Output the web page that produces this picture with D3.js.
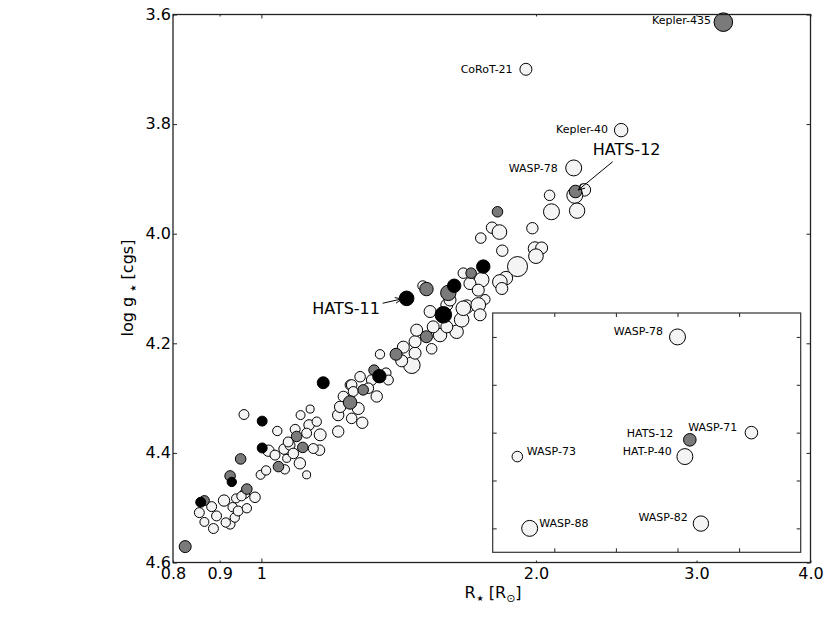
<!DOCTYPE html>
<html><head><meta charset="utf-8">
<script src="https://cdn.jsdelivr.net/npm/d3@7"></script>
<style>
body{margin:0;background:#fff}
svg{display:block}
text{font-family:"DejaVu Sans","Liberation Sans",sans-serif;fill:#000}
</style>
</head><body>
<svg id="c" width="830" height="639"></svg>
<script>
// ---- data (stellar radius [Rsun], log g [cgs], planet radius [RJ], group) ----
// group: 0 = other known planets (light), 1 = grey sample, 2 = black sample
const starR = [0.825,0.858,0.866,0.855,0.866,0.882,0.893,0.886,0.910,0.924,0.935,0.930,0.943,0.938,0.959,0.964,0.964,0.984,0.924,0.928,
0.949,0.957,1.002,1.002,1.041,0.998,1.012,1.018,1.059,1.044,1.061,1.093,1.110,1.102,1.121,1.104,1.131,1.128,1.089,1.160,
1.150,1.158,1.214,1.251,1.290,1.293,1.338,1.169,1.214,1.277,1.251,1.075,1.066,0.914,0.951,1.140,1.070,1.121,1.084,1.035,
1.583,1.347,1.329,1.370,1.405,1.517,1.349,1.462,1.474,1.425,1.431,1.474,1.537,1.570,1.637,1.658,1.531,1.597,1.680,1.480,
1.543,1.256,1.283,1.321,1.310,1.220,1.256,1.230,1.378,1.261,1.597,1.610,
1.815,1.790,1.824,1.740,1.982,1.837,1.995,2.029,2.000,1.909,1.854,1.826,1.835,1.751,1.698,1.665,1.744,1.693,1.729,1.627,
1.603,1.517,1.503,1.759,1.729,1.737,1.665];
const starLogg = [4.571,4.490,4.487,4.509,4.526,4.498,4.515,4.538,4.487,4.530,4.518,4.499,4.506,4.483,4.474,4.466,4.501,4.481,4.442,4.453,
4.411,4.330,4.342,4.391,4.360,4.440,4.432,4.396,4.393,4.425,4.430,4.370,4.390,4.419,4.440,4.331,4.320,4.349,4.357,4.367,
4.343,4.395,4.361,4.308,4.345,4.285,4.297,4.272,4.331,4.319,4.276,4.386,4.410,4.527,4.479,4.392,4.380,4.364,4.401,4.404,
4.148,4.260,4.249,4.254,4.220,4.188,4.220,4.240,4.218,4.232,4.207,4.197,4.210,4.185,4.179,4.157,4.142,4.130,4.133,4.176,
4.170,4.276,4.261,4.267,4.282,4.316,4.337,4.297,4.267,4.288,4.170,4.121,
3.960,3.989,3.997,4.008,3.990,4.031,4.027,4.026,4.041,4.060,4.081,4.088,4.100,4.060,4.072,4.072,4.084,4.091,4.103,4.095,
4.108,4.101,4.095,4.120,4.130,4.148,4.136];
const planetR = [1.00,0.83,0.83,0.83,0.75,0.83,0.83,0.83,0.95,0.83,0.78,0.78,0.83,0.75,0.83,0.88,0.78,0.88,0.88,0.78,
0.88,0.83,0.83,0.83,0.78,0.75,0.78,0.95,0.88,0.88,0.78,0.88,0.88,0.95,0.67,0.75,0.67,0.88,0.83,1.00,
0.78,0.88,0.95,1.12,0.95,0.88,0.95,1.00,0.95,1.00,0.83,0.83,0.67,0.78,0.78,0.83,0.83,0.83,0.88,0.83,
1.38,1.12,0.88,0.83,1.00,1.00,0.78,1.38,1.00,1.00,1.00,1.00,0.88,1.12,1.12,1.22,1.00,1.00,1.12,1.00,
1.00,0.88,0.88,0.88,0.88,0.95,0.88,0.88,0.83,0.83,1.00,1.00,
0.88,0.95,1.22,0.88,0.95,0.95,1.12,1.00,1.22,1.67,1.12,1.22,1.00,1.12,0.88,0.88,1.22,1.00,1.00,1.12,
1.28,1.12,0.83,0.83,1.22,1.00,1.22];
const group = [1,2,1,0,0,0,0,0,0,0,0,0,0,0,0,1,0,0,1,2,
1,0,2,2,0,0,0,0,0,1,0,1,1,0,0,0,0,0,0,0,
0,0,0,1,0,1,0,2,0,0,0,0,0,0,0,0,0,0,0,0,
2,2,1,0,1,1,0,0,0,0,0,0,0,0,0,0,0,0,0,0,
0,0,0,0,0,0,0,0,0,0,0,0,
1,0,0,0,0,0,0,0,0,0,0,0,0,2,1,0,0,0,0,2,
1,1,0,0,0,0,0];

// named systems
const namedStar  = ["Kepler-435","CoRoT-21","Kepler-40","WASP-78","HATS-12","WASP-71","HAT-P-40","WASP-73","WASP-88","WASP-82","HATS-11"];
const namedR     = [3.21, 1.95, 2.48, 2.20, 2.21, 2.26, 2.206, 2.07, 2.08, 2.219, 1.443];
const namedLogg  = [3.614,3.700,3.811,3.880,3.923,3.920,3.930,3.930,3.960,3.958,4.118];
const namedRp    = [1.55, 1.00, 1.12, 1.33, 1.05, 1.05, 1.33, 0.88, 1.33, 1.28, 1.22];
const namedGroup = [1, 0, 0, 0, 1, 0, 0, 0, 0, 0, 2];

// axes
const xTickVals   = [0.8, 0.9, 1, 2, 3, 4];
const xTickLabels = ["0.8","0.9","1","2.0","3.0","4.0"];
const yTickVals   = [3.6, 3.8, 4.0, 4.2, 4.4, 4.6];
const yTickLabels = ["3.6","3.8","4.0","4.2","4.4","4.6"];
const insetXTicks = [2.10, 2.15, 2.20, 2.25];
const insetYTicks = [3.88, 3.90, 3.92, 3.94, 3.96];

// which names appear where
const mainLabels  = ["Kepler-435","CoRoT-21","Kepler-40","WASP-78"];
const insetLabels = ["WASP-78","HATS-12","WASP-71","HAT-P-40","WASP-73","WASP-88","WASP-82"];
const bigNotes    = ["HATS-12","HATS-11"];

// ---- layout (label offsets in pixels) ----
const mainLabelPos = {"Kepler-435":[-12.3,2,"end"],"CoRoT-21":[-13.3,3.2,"end"],"Kepler-40":[-13.1,3,"end"],"WASP-78":[-15.9,4.3,"end"]};
const insetLabelPos = {"WASP-78":[-14.5,-1.9,"end"],"HATS-12":[-16.5,-2.5,"end"],"WASP-71":[-14.1,-1.7,"end"],
  "HAT-P-40":[-13.1,-1.6,"end"],"WASP-73":[9.4,-1.6,"start"],"WASP-88":[9.6,-1.7,"start"],"WASP-82":[-13.2,-2.9,"end"]};
// text dx,dy,anchor ; arrow start dx,dy ; arrow end dx,dy
const notePos = {"HATS-12":{t:[17.2,-36.5,"start"],a0:[37.2,-29.8],a1:[2.8,-1.5]},
                 "HATS-11":{t:[-26.7,15.6,"end"],a0:[-24,4.9],a1:[-5,0.6]}};

const fills = ["#f4f4f4","#7a7a7a","#000000"];

const svg = d3.select("#c");
const L=173, R=810.5, T=14.5, B=562.5;
const x = d3.scaleLog().domain([0.8,4.0]).range([L,R]);
const y = d3.scaleLinear().domain([3.6,4.6]).range([T,B]);
const rs = d3.scaleLinear().domain([0,1]).range([0,6]);

// combined data
let pts = starR.map((d,i)=>({R:d,g:starLogg[i],rp:planetR[i],grp:group[i]}));
namedStar.forEach((n,i)=>pts.push({name:n,R:namedR[i],g:namedLogg[i],rp:namedRp[i],grp:namedGroup[i]}));
const order = pts.map((d,i)=>i).sort((a,b)=>(pts[a].grp-pts[b].grp)||(a-b));
const sorted = order.map(i=>pts[i]);
const byName = {}; pts.forEach(d=>{if(d.name) byName[d.name]=d;});

// points
svg.append("g").selectAll("circle").data(sorted).join("circle")
  .attr("cx",d=>x(d.R)).attr("cy",d=>y(d.g)).attr("r",d=>rs(d.rp))
  .attr("fill",d=>fills[d.grp]).attr("stroke","#000").attr("stroke-width",1);

// main labels
mainLabels.forEach(n=>{
  const d=byName[n], p=mainLabelPos[n];
  svg.append("text").attr("x",x(d.R)+p[0]).attr("y",y(d.g)+p[1]).attr("text-anchor",p[2])
    .attr("font-size",11).text(n);
});

// annotations with arrows
bigNotes.forEach(n=>{
  const d=byName[n], p=notePos[n], cx=x(d.R), cy=y(d.g);
  svg.append("text").attr("x",cx+p.t[0]).attr("y",cy+p.t[1]).attr("text-anchor",p.t[2])
    .attr("font-size",16).text(n);
  const x0=cx+p.a0[0], y0=cy+p.a0[1], x1=cx+p.a1[0], y1=cy+p.a1[1];
  const ang=Math.atan2(y1-y0,x1-x0), hl=7, ha=0.42;
  const hx1=x1-hl*Math.cos(ang-ha), hy1=y1-hl*Math.sin(ang-ha);
  const hx2=x1-hl*Math.cos(ang+ha), hy2=y1-hl*Math.sin(ang+ha);
  svg.append("path").attr("d",`M${x0},${y0}L${x1},${y1}M${hx1},${hy1}L${x1},${y1}L${hx2},${hy2}`)
    .attr("fill","none").attr("stroke","#000").attr("stroke-width",1);
});

// main axes
const ax = svg.append("g").attr("class","axes");
function styleAxis(g){ g.select(".domain").remove(); g.selectAll("line").attr("stroke","#222").attr("stroke-width",1);
  g.selectAll("text").attr("font-size",16).attr("font-family",'"DejaVu Sans",sans-serif').attr("fill","#000"); }

const gl = ax.append("g").attr("transform",`translate(${L},0)`)
  .call(d3.axisLeft(y).tickValues(yTickVals).tickFormat((d,i)=>yTickLabels[i]).tickSizeInner(-4).tickSizeOuter(0).tickPadding(2));
styleAxis(gl);
gl.selectAll(".tick text").attr("dy","0.3em");
const gr = ax.append("g").attr("transform",`translate(${R},0)`)
  .call(d3.axisRight(y).tickValues(yTickVals).tickFormat("").tickSizeInner(-4).tickSizeOuter(0));
styleAxis(gr);
const gb = ax.append("g").attr("transform",`translate(0,${B})`)
  .call(d3.axisBottom(x).tickValues(xTickVals).tickFormat((d,i)=>xTickLabels[i]).tickSizeInner(-2).tickSizeOuter(0).tickPadding(5.5));
styleAxis(gb);
gb.selectAll(".tick").filter(d=>d===1).select("line").attr("y2",-4);
const gt = ax.append("g").attr("transform",`translate(0,${T})`)
  .call(d3.axisTop(x).tickValues(xTickVals).tickFormat("").tickSizeInner(-2).tickSizeOuter(0));
styleAxis(gt);
gt.selectAll(".tick").filter(d=>d===1).select("line").attr("y2",4);

ax.append("rect").attr("x",L).attr("y",T).attr("width",R-L).attr("height",B-T)
  .attr("fill","none").attr("stroke","#222").attr("stroke-width",1.3);

// axis titles
const yt = svg.append("text").attr("transform","translate(132.5,288) rotate(-90)")
  .attr("text-anchor","middle").attr("font-size",16);
yt.append("tspan").text("log g ");
yt.append("tspan").attr("font-size",8).attr("dy",3).text("\u2605");
yt.append("tspan").attr("dy",-3).text(" [cgs]");

const xt = svg.append("text").attr("x",493).attr("y",598).attr("text-anchor","middle").attr("font-size",16);
xt.append("tspan").text("R");
xt.append("tspan").attr("font-size",8).attr("dy",3).attr("dx",1).text("\u2605");
xt.append("tspan").attr("dy",-3).text(" [R");
xt.append("tspan").attr("font-size",11).attr("dy",4).text("\u2299");
xt.append("tspan").attr("dy",-4).text("]");

// ---- inset ----
const iL=492.7, iR=800.7, iT=313, iB=552.3;
const ix = d3.scaleLinear().domain([2.05,2.30]).range([iL,iR]);
const iy = d3.scaleLinear().domain([3.87,3.97]).range([iT,iB]);
const ins = svg.append("g");
ins.append("rect").attr("x",iL).attr("y",iT).attr("width",iR-iL).attr("height",iB-iT).attr("fill","#fff");
const insPts = insetLabels.map(n=>byName[n]).slice().sort((a,b)=>a.grp-b.grp);
ins.append("g").selectAll("circle").data(insPts).join("circle")
  .attr("cx",d=>ix(d.R)).attr("cy",d=>iy(d.g)).attr("r",d=>rs(d.rp))
  .attr("fill",d=>fills[d.grp]).attr("stroke","#000").attr("stroke-width",1);
insetLabels.forEach(n=>{
  const d=byName[n], p=insetLabelPos[n];
  ins.append("text").attr("x",ix(d.R)+p[0]).attr("y",iy(d.g)+p[1]).attr("text-anchor",p[2])
    .attr("font-size",11).text(n);
});
[["axisLeft",iL],["axisRight",iR]].forEach(([f,pos])=>{
  const g=ins.append("g").attr("transform",`translate(${pos},0)`)
    .call(d3[f](iy).tickValues(insetYTicks).tickFormat("").tickSizeInner(-4).tickSizeOuter(0));
  styleAxis(g);
});
[["axisTop",iT],["axisBottom",iB]].forEach(([f,pos])=>{
  const g=ins.append("g").attr("transform",`translate(0,${pos})`)
    .call(d3[f](ix).tickValues(insetXTicks).tickFormat("").tickSizeInner(-4).tickSizeOuter(0));
  styleAxis(g);
});
ins.append("rect").attr("x",iL).attr("y",iT).attr("width",iR-iL).attr("height",iB-iT)
  .attr("fill","none").attr("stroke","#333").attr("stroke-width",1.2);
</script>
</body></html>
